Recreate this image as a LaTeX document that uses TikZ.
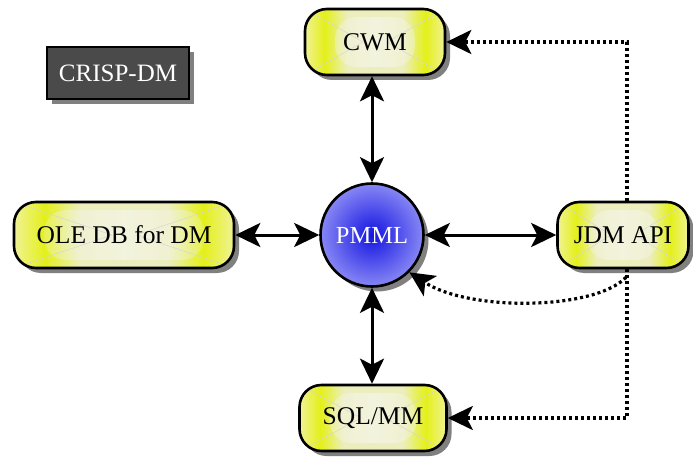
\documentclass[tikz,border=0pt]{standalone}
\usepackage{fontspec}
\setmainfont{Liberation Serif}
\usetikzlibrary{shadows,arrows.meta,calc,fadings}

\definecolor{ylwA}{RGB}{228,240,25}
\definecolor{ylwB}{RGB}{240,242,150}
\definecolor{ylwC}{RGB}{236,238,190}
\definecolor{pale}{RGB}{244,244,226}
\definecolor{blueEdge}{RGB}{135,135,245}
\definecolor{blueCore}{RGB}{20,20,225}
\definecolor{darkbox}{RGB}{74,74,74}

% vertical stripes for the yellow tiles
\pgfdeclarehorizontalshading{tilestripes}{100bp}{%
  color(0bp)=(ylwA); color(6bp)=(ylwA); color(12bp)=(ylwB); color(18bp)=(ylwA);
  color(25bp)=(ylwB); color(32bp)=(ylwA); color(40bp)=(ylwC); color(50bp)=(ylwC);
  color(60bp)=(ylwC); color(68bp)=(ylwA); color(75bp)=(ylwB); color(82bp)=(ylwA);
  color(88bp)=(ylwB); color(94bp)=(ylwA); color(100bp)=(ylwA)}

\tikzfading[name=midband, left color=transparent!100, right color=transparent!100,
  middle color=transparent!10]

\tikzset{
  shade/.style={drop shadow={shadow xshift=5pt,shadow yshift=-5pt,fill=black!50,opacity=1}},
  tile/.style={shade, draw=black, line width=2.6pt, rounded corners=22pt,
    shading=tilestripes, minimum height=66pt, font=\fontsize{25.5}{28}\selectfont,
    path picture={
      \fill[pale, path fading=midband]
         ($(path picture bounding box.south west)+(30pt,8pt)$)
         rectangle ($(path picture bounding box.north east)+(-30pt,-8pt)$);
      \draw[black!16, line width=0.5pt]
         (path picture bounding box.south west) -- ($(path picture bounding box.center)+(-12pt,0)$)
         (path picture bounding box.north west) -- ($(path picture bounding box.center)+(-12pt,0)$)
         (path picture bounding box.south east) -- ($(path picture bounding box.center)+(12pt,0)$)
         (path picture bounding box.north east) -- ($(path picture bounding box.center)+(12pt,0)$);
    }},
  hub/.style={shade, circle, draw=black, line width=2.6pt, minimum size=103pt,
    inner color=blueCore, outer color=blueEdge, text=white,
    font=\fontsize{24.5}{28}\selectfont},
  labelbox/.style={shade, draw=black, line width=1.6pt, fill=darkbox, text=white,
    minimum width=142pt, minimum height=52pt, font=\fontsize{25}{28}\selectfont},
  bigtip/.tip={Stealth[length=25pt,width=24pt,inset=6pt]},
  link/.style={line width=3pt, bigtip-bigtip},
  dotlink/.style={line width=3.2pt, dash pattern=on 3pt off 3pt, -bigtip},
}

\begin{document}
\begin{tikzpicture}[x=1pt,y=-1pt]
  \useasboundingbox (0,0) rectangle (693,457);

  \node[labelbox] (crisp) at (118,73) {CRISP-DM};

  \node[tile, minimum width=140pt] (cwm) at (375,42) {CWM};
  \node[tile, minimum width=220pt] (ole) at (124,235) {OLE DB for DM};
  \node[tile, minimum width=131pt] (jdm) at (623,235) {JDM API};
  \node[tile, minimum width=147pt] (sql) at (373,418) {SQL/MM};
  \node[hub] (pmml) at (372,235) {PMML};

  % solid two-way links
  \draw[link] (cwm.south -| pmml) -- (pmml.north);
  \draw[link] (pmml.south) -- (sql.north -| pmml);
  \draw[link] (ole.east) -- (pmml.west);
  \draw[link] (pmml.east) -- (jdm.west);

  % dotted links from JDM API
  \coordinate (jtop) at ($(jdm.north)+(4,0)$);
  \coordinate (jbot) at ($(jdm.south)+(4,0)$);
  \coordinate (jcurve) at ($(jdm.south)+(3,8)$);
  \draw[dotlink] (jtop) |- (cwm.east);
  \draw[dotlink] (jbot) |- (sql.east);
  \draw[dotlink] (jcurve) .. controls (595,310) and (470,312) .. (pmml.-45);
\end{tikzpicture}
\end{document}
